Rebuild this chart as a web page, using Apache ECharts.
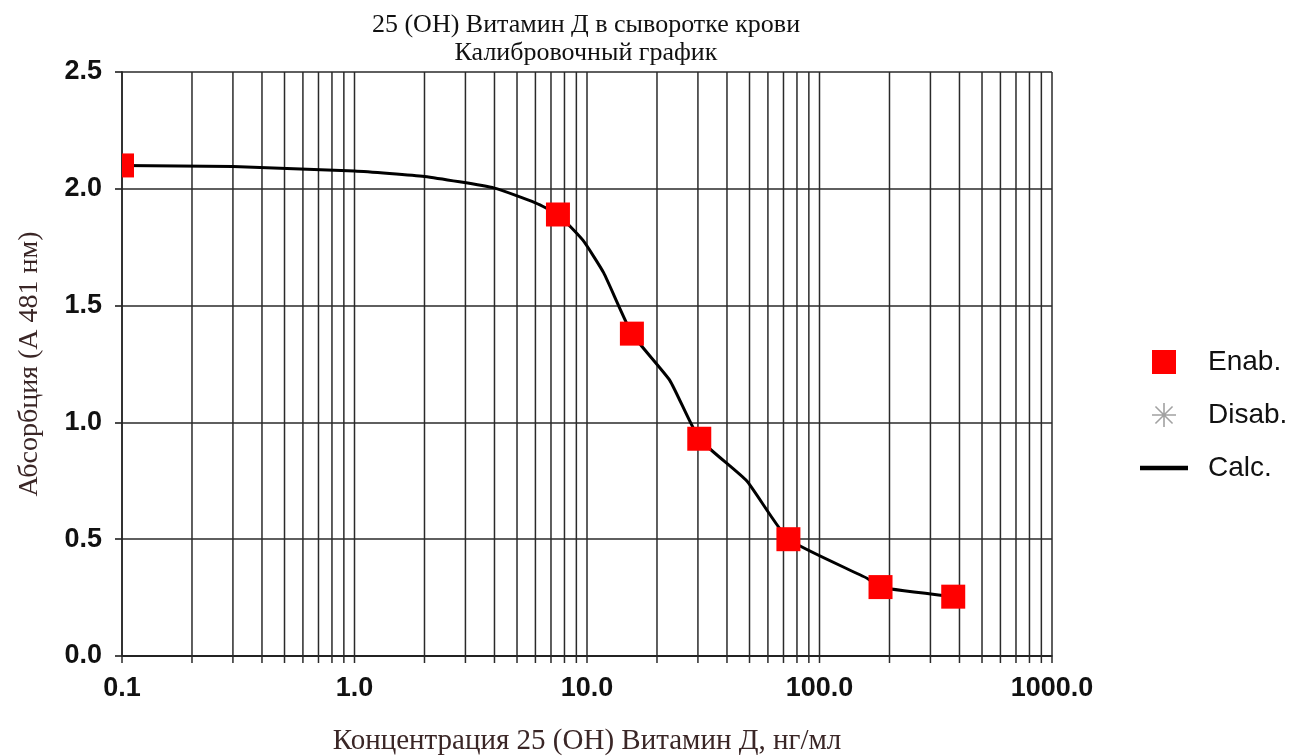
<!DOCTYPE html>
<html>
<head>
<meta charset="utf-8">
<script src="https://cdn.jsdelivr.net/npm/echarts@6/dist/echarts.min.js"></script>
<style>html,body{margin:0;padding:0;background:#fff}#c{width:1315px;height:756px}</style>
</head>
<body>
<div id="c"></div>
<script>
// ---- data ----
const titleLines = ['25 (OH) Витамин Д в сыворотке крови', 'Калибровочный график'];
const xName = 'Концентрация 25 (OH) Витамин Д, нг/мл';
const yName = 'Абсорбция (A 481 нм)';
const legendNames = ['Enab.', 'Disab.', 'Calc.'];
const stdX = [0.1, 7.5, 15.6, 30.4, 73.5, 183, 376];
const stdY = [2.10, 1.89, 1.38, 0.93, 0.50, 0.295, 0.254];
const disabX = [];
const disabY = [];
const calcX = [0.1, 0.3, 1, 2, 4, 6, 7.5, 9.6, 11.8, 15.6, 22.7, 30.4, 48.6, 73.5, 160, 183, 376];
const calcY = [2.10, 2.095, 2.076, 2.053, 2.003, 1.94, 1.89, 1.78, 1.64, 1.38, 1.18, 0.93, 0.75, 0.50, 0.333, 0.294, 0.254];
const X_MIN = 0.1, X_MAX = 1000, Y_MIN = 0, Y_MAX = 2.5, Y_STEP = 0.5;

// vertical log grid positions (1..9 per decade)
const vGrid = [];
for (let d = X_MIN; d < X_MAX * 0.999; d *= 10) {
  for (let k = 1; k <= 9; k++) vGrid.push([+(k * d).toPrecision(6), 0]);
}
vGrid.push([X_MAX, 0]);

const GRID_COLOR = '#2a2a2a';
const sans = '"Liberation Sans", Arial, sans-serif';
const serif = '"Liberation Serif", "Times New Roman", serif';
const nameColor = '#3a2626';
const MARK = 24;

const enabData = stdX.map((x, i) => {
  const item = { value: [x, stdY[i]] };
  if (x <= X_MIN) { item.symbolSize = [MARK / 2, MARK]; item.symbolOffset = [MARK / 4, 0]; }
  return item;
});

const asterisk = 'path://M0 11.2H24V12.8H0Z M11.2 0H12.8V24H11.2Z M2.9 4.0L4.0 2.9L21.1 20.0L20.0 21.1Z M20.0 2.9L21.1 4.0L4.0 21.1L2.9 20.0Z';
const squareIcon = 'path://M0 0H22V22H0Z';
const lineIcon = 'path://M0 0H48V4.5H0Z';

const chart = echarts.init(document.getElementById('c'), null, { renderer: 'canvas' });
chart.setOption({
  animation: false,
  backgroundColor: '#fff',
  title: {
    text: titleLines.join('\n'),
    left: 581, top: 6, textAlign: 'center',
    textStyle: { fontFamily: serif, fontWeight: 'normal', fontSize: 26, lineHeight: 28, color: '#111' }
  },
  grid: { left: 122, right: 263, top: 72, bottom: 100, containLabel: false, outerBoundsMode: 'none' },
  legend: {
    data: [
      { name: legendNames[0], icon: squareIcon },
      { name: legendNames[1], icon: asterisk },
      { name: legendNames[2], icon: lineIcon, itemStyle: { color: '#000' } }
    ],
    orient: 'vertical', left: 1135, top: 343,
    itemWidth: 48, itemHeight: 24, itemGap: 25,
    symbolKeepAspect: true,
    textStyle: { fontFamily: sans, fontSize: 28, lineHeight: 24, color: '#111', padding: [0, 0, 0, 15] },
    selectedMode: false
  },
  xAxis: {
    type: 'log', logBase: 10, min: X_MIN, max: X_MAX,
    name: xName, nameLocation: 'middle', nameGap: 71,
    nameTextStyle: { fontFamily: serif, fontSize: 29, color: nameColor },
    axisLine: { show: true, lineStyle: { color: '#111', width: 1.5 } },
    axisTick: { show: false },
    splitLine: { show: false },
    minorTick: { show: false },
    axisLabel: { fontFamily: sans, fontWeight: 'bold', fontSize: 27, color: '#111', margin: 19,
      formatter: v => Number(v).toFixed(1) }
  },
  yAxis: {
    type: 'value', min: Y_MIN, max: Y_MAX, interval: Y_STEP,
    name: yName, nameLocation: 'middle', nameGap: 78, nameRotate: 90,
    nameTextStyle: { fontFamily: serif, fontSize: 28, color: nameColor },
    axisLine: { show: true, lineStyle: { color: '#111', width: 1.5 } },
    axisTick: { show: true, length: 7, lineStyle: { color: '#111', width: 1.5 } },
    splitLine: { show: true, lineStyle: { color: GRID_COLOR, width: 1.5 } },
    axisLabel: { fontFamily: sans, fontWeight: 'bold', fontSize: 27, color: '#111', margin: 20,
      formatter: v => Number(v).toFixed(1) }
  },
  series: [
    {
      type: 'custom', name: '_grid', silent: true, z: 1,
      data: vGrid,
      renderItem: (params, api) => {
        const x = api.value(0);
        const top = api.coord([x, Y_MAX]);
        const bot = api.coord([x, Y_MIN]);
        return { type: 'line', shape: { x1: top[0], y1: top[1], x2: bot[0], y2: bot[1] + 7 },
          style: { stroke: GRID_COLOR, lineWidth: 1.5 } };
      }
    },
    {
      name: legendNames[2], type: 'line', z: 3,
      data: calcX.map((x, i) => [x, calcY[i]]),
      smooth: 0.15, symbol: 'none', clip: false,
      lineStyle: { color: '#000', width: 3 },
      itemStyle: { color: '#000' }
    },
    {
      name: legendNames[0], type: 'scatter', z: 4, clip: false,
      symbol: 'rect', symbolSize: MARK,
      data: enabData,
      itemStyle: { color: '#ff0000', opacity: 1 }
    },
    {
      name: legendNames[1], type: 'scatter', z: 4,
      symbol: asterisk, symbolSize: 28,
      data: disabX.map((x, i) => [x, disabY[i]]),
      itemStyle: { color: '#8a8a8a' }
    }
  ]
});
</script>
</body>
</html>
